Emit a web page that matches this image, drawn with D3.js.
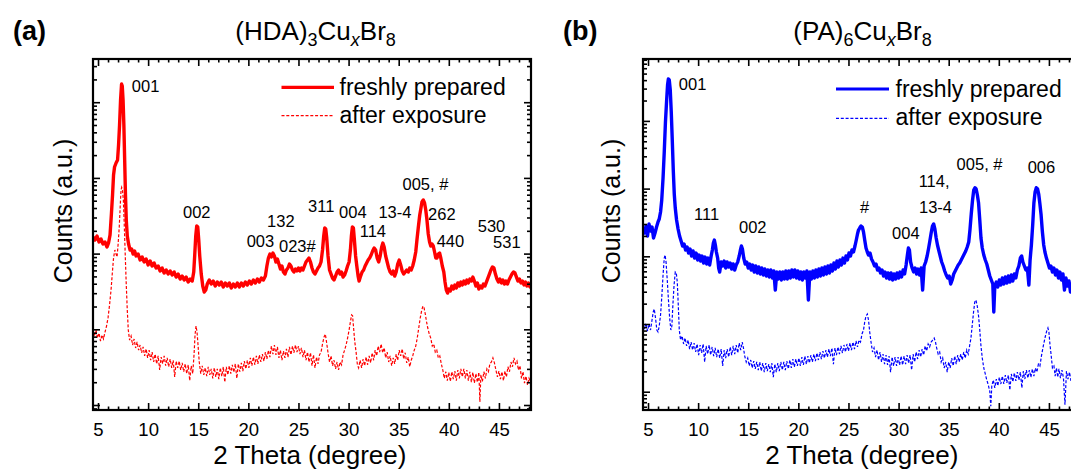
<!DOCTYPE html>
<html>
<head>
<meta charset="utf-8">
<script src="https://cdn.jsdelivr.net/npm/d3@7"></script>
<style>
  body { margin: 0; background: #fff; }
  text { font-family: "Liberation Sans", Arial, Helvetica, sans-serif; fill: #000; }
</style>
</head>
<body>
<svg id="chart" width="1071" height="474"></svg>
<script>
// ---- data ---------------------------------------------------------------
// 2θ tick labels (degree), shared by both panels
const xTickLabels = [5, 10, 15, 20, 25, 30, 35, 40, 45];
const seriesNames = ["freshly prepared", "after exposure"];

// (HDA)3CuxBr8 : [2θ, counts]
const hdaFresh = [[4.5,16560],[4.7,15130],[4.9,17080],[5.1,14230],[5.3,15580],[5.5,13390],[5.7,14230],[5.9,12220],[6.05,13800],[6.2,17600],[6.33,32350],[6.45,59440],[6.55,109200],[6.65,139300],[6.8,157400],[6.95,172400],[7.05,272000],[7.15,499700],[7.25,1069000],[7.35,1739000],[7.42,1636000],[7.5,1069000],[7.58,499700],[7.66,172400],[7.74,59440],[7.82,27790],[7.92,17080],[8.05,13390],[8.2,11160],[8.35,11500],[8.5,9880],[8.65,10820],[8.8,9300],[9,9880],[9.2,8230],[9.4,9020],[9.6,7750],[9.8,8490],[10,7070],[10.2,7990],[10.4,6860],[10.6,7510],[10.8,6450],[11,6860],[11.2,5890],[11.4,6450],[11.6,5540],[11.8,6070],[12,5370],[12.2,5890],[12.4,5210],[12.6,5710],[12.8,4900],[13,5370],[13.2,4610],[13.4,5050],[13.6,4480],[13.8,4900],[14,4210],[14.2,4610],[14.4,4340],[14.55,5710],[14.65,9590],[14.75,17080],[14.85,23180],[14.95,22490],[15.05,15130],[15.15,9300],[15.3,5370],[15.45,3730],[15.6,3110],[15.75,3300],[15.9,3960],[16.1,4480],[16.3,3960],[16.5,4340],[16.7,3730],[16.9,4210],[17.1,3850],[17.3,4210],[17.5,3620],[17.7,4090],[17.9,3730],[18.1,4090],[18.3,3510],[18.5,3960],[18.7,3620],[18.9,4090],[19.1,3620],[19.3,4090],[19.5,3730],[19.7,4210],[19.9,3850],[20.1,4340],[20.3,3960],[20.5,4480],[20.7,4090],[20.9,4610],[21.1,4210],[21.3,4750],[21.5,4480],[21.7,5050],[21.85,6860],[22,8750],[22.15,9880],[22.3,9020],[22.45,10180],[22.6,9300],[22.75,7750],[22.9,8490],[23.05,7290],[23.2,6260],[23.35,6860],[23.5,5710],[23.65,5370],[23.8,6070],[23.95,6450],[24.1,7290],[24.25,6860],[24.4,6070],[24.55,5710],[24.7,6260],[24.85,5890],[25,6450],[25.15,5890],[25.3,6450],[25.45,6070],[25.6,6860],[25.75,7750],[25.9,8230],[26.05,8750],[26.2,7750],[26.35,6450],[26.5,5710],[26.65,5370],[26.8,5890],[26.95,6450],[27.1,6860],[27.25,7750],[27.4,11160],[27.52,17080],[27.62,21810],[27.72,21150],[27.82,16070],[27.95,9300],[28.1,6070],[28.25,5370],[28.4,4750],[28.55,4480],[28.7,5050],[28.85,5710],[29,6070],[29.15,5370],[29.3,5710],[29.45,4900],[29.6,5210],[29.75,5890],[29.9,6860],[30.05,7750],[30.18,11160],[30.28,17080],[30.38,22490],[30.48,21810],[30.58,15130],[30.7,9300],[30.82,6860],[30.95,5050],[31.05,4340],[31.2,5050],[31.35,5710],[31.5,6070],[31.65,6860],[31.8,7510],[31.95,8230],[32.1,8750],[32.25,9590],[32.4,10820],[32.55,11860],[32.7,11160],[32.85,8750],[33,7750],[33.15,9300],[33.3,12220],[33.42,13800],[33.55,12220],[33.7,9300],[33.85,7750],[34,6450],[34.15,5710],[34.3,5370],[34.45,5890],[34.6,5050],[34.75,5710],[34.9,7290],[35.05,8230],[35.2,7070],[35.35,5890],[35.5,5370],[35.65,5710],[35.8,6070],[35.95,5710],[36.1,6450],[36.25,6070],[36.4,6860],[36.55,8230],[36.7,10500],[36.82,15130],[36.95,21810],[37.1,32350],[37.22,40000],[37.32,48040],[37.45,51060],[37.58,46600],[37.7,37670],[37.82,27790],[37.95,18150],[38.08,14230],[38.2,12600],[38.32,13390],[38.45,12600],[38.58,10500],[38.7,8750],[38.82,8750],[38.95,9880],[39.08,10180],[39.2,8750],[39.35,6860],[39.5,5710],[39.62,4210],[39.75,3300],[39.88,3010],[40,3400],[40.15,3200],[40.3,3730],[40.45,3400],[40.6,3850],[40.75,3510],[40.9,4090],[41.05,3730],[41.2,4210],[41.35,3850],[41.5,4340],[41.65,3960],[41.8,4480],[41.95,4090],[42.1,4610],[42.25,4340],[42.4,4900],[42.55,4340],[42.7,3730],[42.85,4090],[43,3400],[43.15,3730],[43.3,3510],[43.45,3960],[43.6,3730],[43.75,4210],[43.9,4750],[44.05,5370],[44.2,6070],[44.35,6650],[44.5,6450],[44.65,5370],[44.8,4610],[44.95,4210],[45.1,4610],[45.25,4090],[45.4,4480],[45.55,3960],[45.7,4340],[45.85,3960],[46,4480],[46.15,4900],[46.3,5370],[46.45,5710],[46.6,5540],[46.75,4900],[46.9,4340],[47.05,4610],[47.2,4090],[47.35,4340],[47.5,3850],[47.65,4210],[47.8,3730],[47.95,4090],[48.1,3620],[48.2,3850]];

const hdaExposed = [[4.5,1040],[4.65,815],[4.8,980],[4.95,767],[5.1,890],[5.25,700],[5.4,840],[5.55,745],[5.7,920],[5.85,1105],[6,1414],[6.15,2090],[6.3,3300],[6.42,5370],[6.55,8750],[6.68,11160],[6.8,9880],[6.9,9020],[7,13000],[7.12,22490],[7.22,43850],[7.3,69200],[7.36,75000],[7.44,69200],[7.53,51060],[7.62,23870],[7.72,9300],[7.82,3850],[7.92,1800],[8.02,980],[8.15,720],[8.3,815],[8.45,620],[8.6,745],[8.75,566],[8.9,680],[9.05,530],[9.2,620],[9.35,490],[9.5,585],[9.65,445],[9.8,550],[9.95,420],[10.1,530],[10.25,390],[10.4,500],[10.55,370],[10.7,470],[10.85,350],[11,445],[11.15,290],[11.3,430],[11.45,350],[11.6,445],[11.75,330],[11.9,420],[12.05,320],[12.2,405],[12.35,310],[12.5,390],[12.65,235],[12.8,380],[12.95,310],[13.1,380],[13.25,290],[13.4,360],[13.55,275],[13.7,350],[13.85,260],[14,340],[14.15,210],[14.3,330],[14.45,260],[14.58,460],[14.68,840],[14.78,1105],[14.88,920],[14.98,620],[15.1,370],[15.25,260],[15.4,330],[15.55,250],[15.7,310],[15.85,240],[16,320],[16.15,250],[16.3,300],[16.45,225],[16.6,310],[16.75,235],[16.9,300],[17.05,220],[17.2,310],[17.35,240],[17.5,320],[17.65,200],[17.8,320],[17.95,250],[18.1,330],[18.25,260],[18.4,340],[18.55,270],[18.7,350],[18.85,225],[19,350],[19.15,275],[19.3,360],[19.45,280],[19.6,380],[19.75,300],[19.9,390],[20.05,310],[20.2,420],[20.35,330],[20.5,430],[20.65,340],[20.8,445],[20.95,350],[21.1,460],[21.25,370],[21.4,470],[21.55,380],[21.7,500],[21.85,405],[22,530],[22.15,430],[22.3,600],[22.45,470],[22.6,620],[22.75,460],[22.9,585],[23.05,420],[23.2,530],[23.35,390],[23.5,515],[23.65,420],[23.8,550],[23.95,430],[24.1,585],[24.25,460],[24.4,600],[24.55,490],[24.7,620],[24.85,500],[25,600],[25.15,470],[25.3,570],[25.45,430],[25.6,530],[25.75,390],[25.9,500],[26.05,370],[26.2,490],[26.35,330],[26.5,460],[26.65,310],[26.8,430],[26.95,350],[27.1,460],[27.25,500],[27.4,640],[27.55,790],[27.68,865],[27.8,680],[27.95,490],[28.1,370],[28.25,445],[28.4,330],[28.55,390],[28.7,300],[28.85,370],[29,290],[29.15,370],[29.3,340],[29.45,460],[29.6,530],[29.75,620],[29.9,765],[30.05,980],[30.18,1250],[30.3,1550],[30.4,1505],[30.5,1040],[30.62,680],[30.75,500],[30.88,340],[31,310],[31.15,390],[31.3,310],[31.45,405],[31.6,330],[31.75,430],[31.9,340],[32.05,445],[32.2,360],[32.35,490],[32.5,390],[32.65,530],[32.8,445],[32.95,600],[33.1,500],[33.25,640],[33.4,490],[33.55,570],[33.7,420],[33.85,500],[34,370],[34.15,445],[34.3,330],[34.45,420],[34.6,350],[34.75,470],[34.9,390],[35.05,530],[35.2,445],[35.35,550],[35.5,405],[35.65,490],[35.8,360],[35.95,430],[36.1,320],[36.25,390],[36.4,445],[36.55,530],[36.7,600],[36.85,765],[37,1040],[37.15,1414],[37.3,1800],[37.42,2025],[37.52,1960],[37.65,1600],[37.78,1250],[37.9,1040],[38.05,865],[38.2,765],[38.35,600],[38.5,640],[38.65,500],[38.8,530],[38.95,420],[39.1,445],[39.25,350],[39.4,290],[39.55,225],[39.7,275],[39.85,210],[40,270],[40.15,205],[40.3,275],[40.45,220],[40.6,280],[40.75,210],[40.9,290],[41.05,225],[41.2,300],[41.35,235],[41.5,300],[41.65,225],[41.8,290],[41.95,210],[42.1,275],[42.25,200],[42.4,270],[42.55,195],[42.7,260],[42.85,200],[43,270],[43.1,110],[43.2,250],[43.35,205],[43.5,275],[43.65,225],[43.8,300],[43.95,275],[44.1,350],[44.25,370],[44.4,420],[44.55,360],[44.7,290],[44.85,235],[45,280],[45.15,220],[45.3,275],[45.45,210],[45.6,280],[45.75,235],[45.9,320],[46.05,275],[46.2,370],[46.35,320],[46.5,420],[46.65,350],[46.8,380],[46.95,290],[47.1,330],[47.25,225],[47.4,275],[47.55,195],[47.7,240],[47.85,184],[48,225],[48.2,200]];

// reflection labels for (HDA)3CuxBr8 : text, 2θ and counts of the label's left baseline point
const hdaPeakLabels = [
  ["001", 8.37, 1351000], ["002", 13.48, 29260], ["003", 19.83, 12340], ["132", 21.87, 22670],
  ["023#", 23.06, 10600], ["311", 25.96, 35770], ["004", 29.05, 29260], ["114", 31.11, 16720],
  ["13-4", 32.98, 29260], ["005, #", 35.38, 69200], ["262", 37.93, 27790], ["440", 38.79, 12340],
  ["530", 42.89, 19470], ["531", 44.42, 11750]
];

// (PA)6CuxBr8 : [2θ, counts]
const paFresh = [[4.5,26180],[4.65,22090],[4.8,28030],[4.95,19950],[5.1,30010],[5.25,23640],[5.4,27090],[5.55,18640],[5.7,22090],[5.85,27090],[6,32130],[6.12,35580],[6.25,45120],[6.37,67850],[6.5,143400],[6.62,347300],[6.74,963300],[6.86,2035000],[6.95,3391000],[7.03,4158000],[7.12,4019000],[7.22,2860000],[7.32,1354000],[7.42,522400],[7.52,188300],[7.62,83220],[7.72,51700],[7.85,34390],[8,25310],[8.15,19950],[8.3,16830],[8.45,14200],[8.6,15190],[8.75,12390],[8.9,13720],[9.05,11190],[9.2,12820],[9.35,10100],[9.5,11980],[9.65,9430],[9.8,11190],[9.95,8820],[10.1,10450],[10.25,8520],[10.4,10100],[10.55,7960],[10.7,9760],[10.85,7700],[11,9430],[11.15,7440],[11.3,10100],[11.42,12390],[11.52,15720],[11.62,17410],[11.72,14690],[11.82,11580],[11.95,9430],[12.05,6720],[12.15,5860],[12.3,8240],[12.45,7190],[12.6,8520],[12.75,6720],[12.9,8240],[13.05,6950],[13.2,7960],[13.35,6490],[13.5,7700],[13.65,6275],[13.8,7440],[13.95,8240],[14.1,10100],[14.22,12390],[14.32,14200],[14.42,12820],[14.55,9430],[14.7,7700],[14.85,8240],[15,6720],[15.15,7700],[15.3,6275],[15.45,7440],[15.6,5860],[15.75,7190],[15.9,5670],[16.05,6950],[16.2,5480],[16.35,6720],[16.5,5295],[16.65,6490],[16.8,5120],[16.95,6275],[17.1,4950],[17.25,6275],[17.4,4780],[17.55,6070],[17.7,3178],[17.85,5860],[18,4620],[18.15,5860],[18.3,4467],[18.45,5860],[18.6,4620],[18.75,6070],[18.9,4620],[19.05,6070],[19.2,4780],[19.35,6275],[19.5,4950],[19.65,6275],[19.8,4780],[19.95,6070],[20.1,4620],[20.25,5860],[20.4,4467],[20.55,5860],[20.7,4780],[20.85,6070],[21,2262],[21.15,5860],[21.3,4620],[21.45,6070],[21.6,4780],[21.75,6275],[21.9,4950],[22.05,6490],[22.2,5120],[22.35,6720],[22.5,5295],[22.65,6950],[22.8,5480],[22.95,7190],[23.1,5670],[23.25,7440],[23.4,6070],[23.55,7960],[23.7,6490],[23.85,8520],[24,6950],[24.15,8820],[24.3,7440],[24.45,9430],[24.6,7960],[24.75,10100],[24.9,8820],[25.05,11190],[25.2,10100],[25.35,12390],[25.5,11580],[25.65,14200],[25.78,17410],[25.9,21350],[26,24460],[26.12,26180],[26.25,28030],[26.38,27090],[26.5,22850],[26.62,17410],[26.75,13260],[26.88,11580],[27,10450],[27.15,11190],[27.3,9120],[27.45,8240],[27.6,7190],[27.75,7700],[27.9,6275],[28.05,6720],[28.2,5670],[28.35,6275],[28.5,5120],[28.65,5860],[28.8,4780],[28.95,5670],[29.1,4620],[29.25,5670],[29.4,4467],[29.55,5480],[29.7,4620],[29.85,5670],[30,4780],[30.15,5860],[30.3,4950],[30.45,6275],[30.6,5480],[30.75,7440],[30.88,10450],[30.98,13260],[31.08,12390],[31.2,8240],[31.35,6720],[31.5,5860],[31.65,6720],[31.8,5480],[31.95,6490],[32.1,5295],[32.25,6720],[32.4,3178],[32.55,7190],[32.7,8240],[32.85,10100],[33,13260],[33.12,16830],[33.25,22090],[33.38,28030],[33.5,30010],[33.62,25310],[33.75,18640],[33.88,14690],[34,12390],[34.15,10100],[34.3,8240],[34.45,7190],[34.6,6070],[34.75,5295],[34.9,4780],[35.05,5120],[35.2,3900],[35.35,4467],[35.5,5480],[35.65,6070],[35.8,6720],[35.95,7440],[36.1,7960],[36.25,8820],[36.4,9760],[36.55,10810],[36.7,11980],[36.85,13720],[37,16260],[37.12,24460],[37.25,42150],[37.38,67850],[37.5,95350],[37.62,103100],[37.74,98650],[37.86,80500],[37.98,61260],[38.1,34390],[38.22,18640],[38.35,13260],[38.5,10450],[38.65,8820],[38.8,7700],[38.95,6275],[39.1,5120],[39.25,4467],[39.4,3900],[39.5,1504],[39.6,3640],[39.75,4170],[39.9,3520],[40.05,4467],[40.2,3768],[40.35,4780],[40.5,3900],[40.65,4950],[40.8,4030],[40.95,5120],[41.1,4170],[41.25,5295],[41.4,4320],[41.55,5480],[41.7,4780],[41.85,6275],[42,7190],[42.15,9430],[42.28,10100],[42.4,8240],[42.55,7190],[42.7,6275],[42.85,6720],[43,3768],[43.12,8820],[43.25,14690],[43.38,29000],[43.5,61260],[43.62,89080],[43.74,103100],[43.86,99700],[43.98,83220],[44.1,59200],[44.22,40740],[44.35,22850],[44.48,14690],[44.6,11580],[44.75,9430],[44.9,7960],[45.05,6720],[45.2,7190],[45.35,5860],[45.5,6720],[45.65,5295],[45.8,6275],[45.95,4780],[46.1,5860],[46.25,4467],[46.4,5480],[46.55,3178],[46.7,4780],[46.85,3640],[47,4320],[47.15,2970],[47.3,3900],[47.45,3178],[47.6,4030],[47.75,3400],[47.9,4170],[48.05,3520],[48.2,4030]];

const paExposed = [[4.5,1070],[4.65,843],[4.8,1035],[4.95,788],[5.1,1000],[5.25,815],[5.4,1146],[5.52,1504],[5.62,1666],[5.75,1224],[5.88,815],[6,762],[6.12,934],[6.25,1358],[6.38,2590],[6.5,5295],[6.62,9430],[6.7,10450],[6.8,8240],[6.92,4467],[7.04,2262],[7.16,1224],[7.28,815],[7.38,934],[7.48,1908],[7.6,3768],[7.72,5860],[7.82,5670],[7.92,4170],[8.02,1908],[8.12,815],[8.25,580],[8.4,665],[8.55,507],[8.7,621],[8.85,474],[9,580],[9.15,427],[9.3,542],[9.45,413],[9.6,524],[9.75,386],[9.9,507],[10.05,348],[10.2,490],[10.35,373],[10.5,507],[10.65,275],[10.8,474],[10.95,360],[11.1,490],[11.25,348],[11.4,458],[11.55,336],[11.7,443],[11.85,325],[12,427],[12.15,314],[12.3,427],[12.45,240],[12.6,413],[12.75,314],[12.9,427],[13.05,325],[13.2,458],[13.35,348],[13.5,474],[13.65,360],[13.8,490],[13.95,373],[14.1,524],[14.25,413],[14.4,542],[14.52,443],[14.65,336],[14.8,275],[14.95,314],[15.1,240],[15.25,294],[15.4,224],[15.55,284],[15.7,217],[15.85,275],[16,209],[16.15,275],[16.3,202],[16.45,265],[16.6,195],[16.75,265],[16.9,202],[17.05,256],[17.2,195],[17.35,265],[17.5,164],[17.65,256],[17.8,195],[17.95,265],[18.1,202],[18.25,275],[18.4,209],[18.55,275],[18.7,209],[18.85,284],[19,217],[19.15,294],[19.3,224],[19.45,304],[19.6,232],[19.75,304],[19.9,240],[20.05,314],[20.2,240],[20.35,325],[20.5,248],[20.65,336],[20.8,256],[20.95,336],[21.1,265],[21.25,348],[21.4,275],[21.55,360],[21.7,284],[21.85,373],[22,294],[22.15,386],[22.3,304],[22.45,399],[22.6,314],[22.75,413],[22.9,325],[23.05,427],[23.2,336],[23.35,443],[23.5,256],[23.65,443],[23.8,348],[23.95,458],[24.1,360],[24.25,474],[24.4,373],[24.55,490],[24.7,386],[24.85,507],[25,399],[25.15,524],[25.3,413],[25.45,542],[25.6,427],[25.75,561],[25.9,458],[26.05,580],[26.2,542],[26.35,712],[26.5,815],[26.62,1070],[26.75,1313],[26.88,1405],[27,1146],[27.12,762],[27.25,542],[27.4,386],[27.55,443],[27.7,325],[27.85,413],[28,294],[28.15,386],[28.3,275],[28.45,360],[28.6,256],[28.75,348],[28.9,248],[29.05,336],[29.2,195],[29.35,325],[29.5,240],[29.65,325],[29.8,240],[29.95,325],[30.1,248],[30.25,336],[30.4,248],[30.55,336],[30.7,256],[30.85,348],[31,265],[31.15,348],[31.3,209],[31.45,360],[31.6,275],[31.75,386],[31.9,304],[32.05,413],[32.2,325],[32.35,427],[32.5,348],[32.65,474],[32.8,399],[32.95,507],[33.1,458],[33.25,542],[33.4,580],[33.55,621],[33.68,542],[33.8,443],[33.95,360],[34.1,386],[34.25,275],[34.4,314],[34.55,224],[34.7,275],[34.85,195],[35,275],[35.15,224],[35.3,314],[35.45,240],[35.6,336],[35.75,256],[35.9,348],[36.05,275],[36.2,360],[36.35,294],[36.5,386],[36.65,314],[36.8,413],[36.95,360],[37.1,490],[37.22,621],[37.35,967],[37.48,1504],[37.6,2110],[37.72,2262],[37.85,1844],[37.98,1313],[38.1,815],[38.22,474],[38.35,314],[38.5,224],[38.65,183],[38.8,149],[38.95,126],[39.1,101],[39.2,61],[39.3,122],[39.45,149],[39.6,114],[39.75,154],[39.9,122],[40.05,164],[40.2,130],[40.35,170],[40.5,130],[40.65,176],[40.8,135],[40.95,176],[41.1,106],[41.25,183],[41.4,140],[41.55,189],[41.7,144],[41.85,195],[42,149],[42.15,195],[42.3,114],[42.45,202],[42.6,154],[42.75,209],[42.9,159],[43.05,209],[43.2,164],[43.35,217],[43.5,170],[43.65,224],[43.8,195],[43.95,256],[44.1,240],[44.25,336],[44.4,443],[44.52,542],[44.65,665],[44.78,790],[44.9,873],[45,760],[45.1,507],[45.22,348],[45.35,224],[45.5,240],[45.62,170],[45.75,224],[45.88,164],[46,217],[46.15,159],[46.3,209],[46.45,159],[46.6,64],[46.75,202],[46.9,154],[47.05,195],[47.2,144],[47.35,189],[47.5,140],[47.65,183],[47.8,135],[47.95,176],[48.1,130],[48.2,159]];

// reflection labels for (PA)6CuxBr8
const paPeakLabels = [
  ["001", 8.07, 2860000], ["111", 9.59, 34390], ["002", 14.08, 21870], ["#", 26.16, 43170],
  ["004", 29.35, 17830], ["114,", 32.0, 106700], ["13-4", 32.04, 43170], ["005, #", 35.79, 188300],
  ["006", 42.88, 168300]
];

// ---- layout -------------------------------------------------------------
const svg = d3.select("#chart");
const FONT = '"Liberation Sans", Arial, Helvetica, sans-serif';

const panels = [
  {
    tag: "(a)", tagX: 13, titleX: 315.6,
    title: [["(HDA)"], ["3", "sub"], ["Cu"], ["x", "subi"], ["Br"], ["8", "sub"]],
    fresh: hdaFresh, exposed: hdaExposed, labels: hdaPeakLabels, color: "#ff0000",
    left: 93, top: 59, width: 438, height: 351, yDomain: [85.9, 3.722e6],
    yLabelX: 72, xLabelX: 309.8,
    legend: { x0: 281.5, x1: 334, tx: 339.5, y1: 87.3, t1: 95, y2: 115.7, t2: 122.7 }
  },
  {
    tag: "(b)", tagX: 563, titleX: 862.5,
    title: [["(PA)"], ["6", "sub"], ["Cu"], ["x", "subi"], ["Br"], ["8", "sub"]],
    fresh: paFresh, exposed: paExposed, labels: paPeakLabels, color: "#0000ff",
    left: 643, top: 59, width: 438, height: 351, yDomain: [53.7, 8.21e6],
    yLabelX: 619.6, xLabelX: 861.8,
    legend: { x0: 836, x1: 889, tx: 895.5, y1: 89, t1: 96.7, y2: 118.3, t2: 125 }
  }
];

panels.forEach((p, i) => {
  const x = d3.scaleLinear().domain([4.5, 48.2]).range([p.left, p.left + p.width]);
  const y = d3.scaleLog().domain(p.yDomain).range([p.top + p.height, p.top]);
  const g = svg.append("g");

  // clip region = plot frame
  const clipId = "clip" + i;
  svg.append("defs").append("clipPath").attr("id", clipId)
    .append("rect").attr("x", p.left).attr("y", p.top).attr("width", p.width).attr("height", p.height);

  const line = d3.line().x(d => x(d[0])).y(d => y(d[1]));
  const plot = g.append("g").attr("clip-path", `url(#${clipId})`);

  // after exposure: thin dashed trace
  plot.append("path").datum(p.exposed)
    .attr("d", line).attr("fill", "none").attr("stroke", p.color)
    .attr("stroke-width", 1.2).attr("stroke-dasharray", "3,1.8");

  // freshly prepared: heavy solid trace
  plot.append("path").datum(p.fresh)
    .attr("d", line).attr("fill", "none").attr("stroke", p.color)
    .attr("stroke-width", 3.4).attr("stroke-linejoin", "round");

  // ---- axes (ticks pointing inward, mirrored on all sides) ----
  const minorX = d3.range(5, 49).filter(v => v % 5 !== 0);
  const yTicks = y.ticks();
  const majorY = yTicks.filter(v => Math.abs(Math.log10(v) - Math.round(Math.log10(v))) < 1e-9);
  const minorY = yTicks.filter(v => !majorY.includes(v));

  const axisStyle = sel => {
    sel.select(".domain").remove();
    sel.selectAll(".tick line").attr("stroke", "#000").attr("stroke-width", 1.6);
  };

  const bottom = p.top + p.height;
  const right = p.left + p.width;

  const xb = g.append("g").attr("transform", `translate(0,${bottom})`)
    .call(d3.axisBottom(x).tickValues(xTickLabels).tickSize(-7).tickFormat(d3.format("d")));
  axisStyle(xb);
  xb.selectAll("text").attr("y", 25.5).attr("dy", 0)
    .style("font-family", FONT).style("font-size", "18.5px").attr("fill", "#000");

  g.append("g").attr("transform", `translate(0,${bottom})`)
    .call(d3.axisBottom(x).tickValues(minorX).tickSize(-3.5).tickFormat(""))
    .call(axisStyle);
  g.append("g").attr("transform", `translate(0,${p.top})`)
    .call(d3.axisTop(x).tickValues(xTickLabels).tickSize(-7).tickFormat(""))
    .call(axisStyle);
  g.append("g").attr("transform", `translate(0,${p.top})`)
    .call(d3.axisTop(x).tickValues(minorX).tickSize(-3.5).tickFormat(""))
    .call(axisStyle);

  g.append("g").attr("transform", `translate(${p.left},0)`)
    .call(d3.axisLeft(y).tickValues(majorY).tickSize(-7).tickFormat(""))
    .call(axisStyle);
  g.append("g").attr("transform", `translate(${p.left},0)`)
    .call(d3.axisLeft(y).tickValues(minorY).tickSize(-4).tickFormat(""))
    .call(axisStyle);
  g.append("g").attr("transform", `translate(${right},0)`)
    .call(d3.axisRight(y).tickValues(majorY).tickSize(-7).tickFormat(""))
    .call(axisStyle);
  g.append("g").attr("transform", `translate(${right},0)`)
    .call(d3.axisRight(y).tickValues(minorY).tickSize(-4).tickFormat(""))
    .call(axisStyle);

  // frame
  g.append("rect").attr("x", p.left).attr("y", p.top)
    .attr("width", p.width).attr("height", p.height)
    .attr("fill", "none").attr("stroke", "#000").attr("stroke-width", 2.2);

  // reflection labels
  g.selectAll(".peak").data(p.labels).enter().append("text")
    .attr("x", d => x(d[1])).attr("y", d => y(d[2]))
    .style("font-size", "16.5px").text(d => d[0]);

  // legend
  const L = p.legend;
  g.append("line").attr("x1", L.x0).attr("x2", L.x1).attr("y1", L.y1).attr("y2", L.y1)
    .attr("stroke", p.color).attr("stroke-width", 3.2);
  g.append("line").attr("x1", L.x0).attr("x2", L.x1).attr("y1", L.y2).attr("y2", L.y2)
    .attr("stroke", p.color).attr("stroke-width", 1.2).attr("stroke-dasharray", "3,1.8");
  g.append("text").attr("x", L.tx).attr("y", L.t1).style("font-size", "23px").text(seriesNames[0]);
  g.append("text").attr("x", L.tx).attr("y", L.t2).style("font-size", "23px").text(seriesNames[1]);

  // axis titles
  g.append("text").attr("x", p.xLabelX).attr("y", 464).attr("text-anchor", "middle")
    .style("font-size", "26px").text("2 Theta (degree)");
  g.append("text").attr("transform", `translate(${p.yLabelX},211) rotate(-90)`)
    .attr("text-anchor", "middle").style("font-size", "25px").text("Counts (a.u.)");

  // panel tag and compound title
  g.append("text").attr("x", p.tagX).attr("y", 39.5)
    .style("font-size", "27px").style("font-weight", "bold").text(p.tag);

  const t = g.append("text").attr("x", p.titleX).attr("y", 39.5)
    .attr("text-anchor", "middle").style("font-size", "26px");
  let shifted = false;
  p.title.forEach(([s, kind]) => {
    const ts = t.append("tspan").text(s);
    if (kind) {
      ts.style("font-size", "18px").attr("dy", shifted ? 0 : 6);
      if (kind === "subi") ts.style("font-style", "italic");
      shifted = true;
    } else {
      if (shifted) ts.attr("dy", -6);
      shifted = false;
    }
  });
});
</script>
</body>
</html>
